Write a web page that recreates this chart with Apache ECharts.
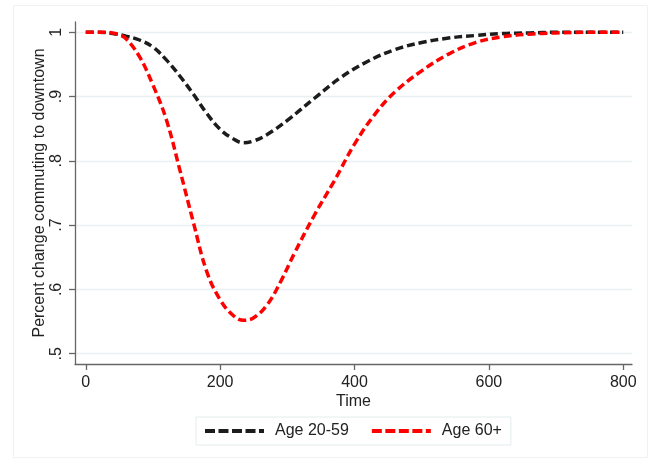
<!DOCTYPE html>
<html>
<head>
<meta charset="utf-8">
<script src="https://cdn.jsdelivr.net/npm/echarts@6/dist/echarts.min.js"></script>
<style>
html,body{margin:0;padding:0;background:#fff;}
#c{width:655px;height:464px;}
</style>
</head>
<body>
<div id="c"></div>
<script>
// Data
const timeYoung = [0,20,40,60,80,100,120,140,160,180,200,220,235,250,270,300,340,380,420,460,500,540,580,620,660,700,750,800];
const valYoung  = [1.000,1.000,0.998,0.994,0.988,0.977,0.957,0.932,0.904,0.874,0.849,0.834,0.828,0.831,0.841,0.863,0.897,0.930,0.955,0.973,0.984,0.991,0.995,0.998,0.999,1.000,1.000,1.000];
const timeOld = [0,20,40,50,60,80,100,120,140,160,180,200,220,235,250,270,290,310,340,370,400,430,460,500,540,580,620,660,700,750,800];
const valOld  = [1.000,1.000,0.999,0.996,0.990,0.962,0.918,0.864,0.786,0.705,0.628,0.584,0.559,0.552,0.556,0.576,0.612,0.655,0.715,0.769,0.826,0.872,0.907,0.940,0.966,0.984,0.993,0.997,0.999,1.000,1.000];
const xTicks = [0,200,400,600,800];
const yTicks = [0.5,0.6,0.7,0.8,0.9,1.0];
const seriesNames = ['Age 20-59','Age 60+'];

const pair = (xs, ys) => xs.map((x, i) => [x, ys[i]]);
const FONT = '"Liberation Sans", Arial, sans-serif';
const TXT = '#222';
const FS = 16;

const chart = echarts.init(document.getElementById('c'), null, {renderer: 'canvas'});
chart.setOption({
  animation: false,
  backgroundColor: '#fff',
  textStyle: {fontFamily: FONT},
  graphic: [{
    type: 'rect', silent: true, z: -10,
    shape: {x: 13.5, y: 5.5, width: 634, height: 452},
    style: {fill: 'none', stroke: '#eef2f4', lineWidth: 1}
  }],
  grid: {left: 75, right: 23, top: 22, bottom: 100, containLabel: false},
  legend: {
    left: 196, top: 417,
    padding: [6, 9, 6, 7],
    itemGap: 21,
    itemWidth: 59, itemHeight: 16,
    borderColor: '#e3ecee', borderWidth: 1,
    lineStyle: {width: 4, type: [10, 3.5]},
    textStyle: {fontFamily: FONT, fontSize: FS, color: TXT, padding: [0, 0, 0, 6]},
    data: seriesNames
  },
  xAxis: {
    type: 'value', min: -16, max: 813,
    name: 'Time', nameLocation: 'middle', nameGap: 30, nameMoveOverlap: false,
    nameTextStyle: {fontFamily: FONT, fontSize: FS, color: TXT},
    axisLine: {show: true, onZero: false, lineStyle: {color: '#666', width: 1.3}},
    axisTick: {show: true, length: 6, customValues: xTicks, lineStyle: {color: '#666', width: 1.3}},
    axisLabel: {customValues: xTicks, margin: 11, fontSize: FS, color: TXT, fontFamily: FONT},
    splitLine: {show: false}
  },
  yAxis: {
    type: 'value', min: 0.484, max: 1.016,
    name: 'Percent change commuting to downtown', nameLocation: 'middle', nameGap: 27, nameMoveOverlap: false,
    nameTextStyle: {fontFamily: FONT, fontSize: FS, color: TXT},
    axisLine: {show: true, onZero: false, lineStyle: {color: '#666', width: 1.3}},
    axisTick: {show: true, length: 6, customValues: yTicks, lineStyle: {color: '#666', width: 1.3}},
    axisLabel: {
      customValues: yTicks, rotate: 90, margin: 10, fontSize: FS, color: TXT, fontFamily: FONT,
      formatter: v => (Math.abs(v - 1) < 1e-9 ? '1' : String(Math.round(v * 10) / 10).replace(/^0/, ''))
    },
    splitLine: {show: true, customValues: yTicks, lineStyle: {color: '#e9f0f2', width: 1.3}}
  },
  series: [
    {
      name: seriesNames[0], type: 'line', smooth: 0.4, symbol: 'none', z: 3,
      data: pair(timeYoung, valYoung),
      itemStyle: {color: 'rgba(0,0,0,0)', borderWidth: 0},
      lineStyle: {color: '#1c1c1c', width: 3.5, type: [8, 4]}
    },
    {
      name: seriesNames[1], type: 'line', smooth: 0.4, symbol: 'none', z: 4,
      data: pair(timeOld, valOld),
      itemStyle: {color: 'rgba(0,0,0,0)', borderWidth: 0},
      lineStyle: {color: '#ff0000', width: 3.5, type: [8, 4]}
    }
  ]
});
</script>
</body>
</html>
